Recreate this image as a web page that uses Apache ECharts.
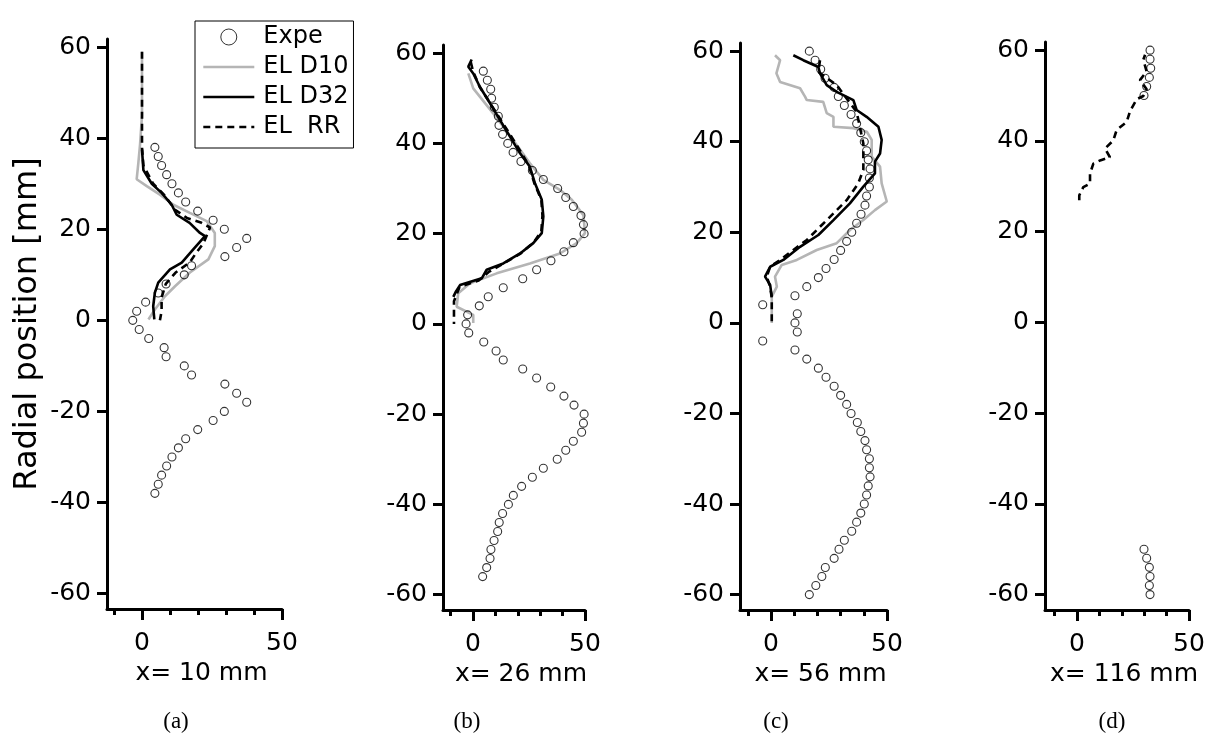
<!DOCTYPE html>
<html>
<head>
<meta charset="utf-8">
<script src="https://cdn.jsdelivr.net/npm/echarts@6/dist/echarts.min.js"></script>
<style>html,body{margin:0;padding:0;background:#fff;}#c{width:1209px;height:736px;}</style>
</head>
<body>
<div id="c"></div>
<script>
// ---------- data (x = value, y = radial position [mm]) ----------
const yTicks = [-60, -40, -20, 0, 20, 40, 60];
const xMajorTicks = [0, 50];
const xMinorTicks = [-10, 10, 20, 30, 40];
const panelTitles = ['x= 10 mm', 'x= 26 mm', 'x= 56 mm', 'x= 116 mm'];
const panelTags = ['(a)', '(b)', '(c)', '(d)'];
const seriesNames = ['Expe', 'EL D10', 'EL D32', 'EL  RR'];

const expeA = [[4.6,38],[5.8,36],[7,34],[8.8,32],[10.7,30],[13,28],[15.6,26],[19.9,24],[25.4,22],[29.4,20],[37.4,18],[33.8,16],[29.6,14],[17.7,12],[15.1,10],[8.6,8],[5.8,6],[1.3,4],[-1.9,2],[-3.3,0],[-1,-2],[2.4,-4],[7.9,-6],[8.6,-8],[15.1,-10],[17.7,-12],[29.6,-14],[33.8,-16],[37.4,-18],[29.4,-20],[25.4,-22],[19.9,-24],[15.6,-26],[13,-28],[10.7,-30],[8.8,-32],[7,-34],[5.8,-36],[4.6,-38]];
const d10A = [[0,59],[0,45],[-0.7,38.6],[-1.3,34.6],[-1.9,31],[1.7,29.5],[6.4,27.6],[11.2,25.4],[17.1,23.6],[23.1,21.8],[26,19.2],[26,16.3],[23.7,13.4],[17.1,10.5],[11.8,7.5],[8.2,5.3],[4.6,2.4],[2.3,0.2]];
const d32A = [[0,37.5],[0.5,33],[3.5,30],[7,28],[10.6,25.4],[12.4,23.2],[17,21.4],[20.7,19.2],[22.5,18.5],[18.3,15.6],[14.2,12.7],[10,11.2],[5.8,8.3],[4.6,6.1],[4,3.1],[4.4,0.2]];
const rrA = [[0,59],[0,38],[0.5,34],[4,30],[8,27.5],[11.8,24.3],[16,22.5],[21,21.5],[24.3,20.4],[22,17],[19,14.5],[17,12.7],[12,10.5],[8.5,8],[7,5],[7,2],[6.4,0]];

const expeB = [[4.6,56],[6.4,54],[7.9,52],[8.3,50],[9.5,48],[11.3,46],[11.6,44],[13.2,42],[15.5,40],[17.9,38],[21.4,36],[26.5,34],[31.4,32],[37.8,30],[41.4,28],[44.8,26],[48.2,24],[49.3,22],[49.6,20],[44.8,18],[40.6,16],[34.8,14],[28.4,12],[22.2,10],[13.5,8],[6.8,6],[2.8,4],[-2.4,2],[-3.1,0],[-1.9,-2],[4.8,-4],[10.3,-6],[13.5,-8],[22.2,-10],[28.4,-12],[34.7,-14],[40.6,-16],[45.1,-18],[49.6,-20],[49.3,-22],[48.5,-24],[44.8,-26],[41.4,-28],[37.6,-30],[31.4,-32],[26.5,-34],[21.7,-36],[18,-38],[15.8,-40],[13.2,-42],[11.7,-44],[11,-46],[9.4,-48],[8,-50],[7.6,-52],[6.1,-54],[4.3,-56]];
const d10B = [[-2.1,55.5],[0.1,52.2],[9.1,46.6],[18,40.7],[25.4,35.6],[31.4,31.9],[38.8,29.7],[44.1,27.5],[49.3,24.1],[50,20.1],[46.3,17.9],[38.8,15.6],[25.4,13.4],[10.6,11.2],[-1.3,9],[-6.6,6.8],[-7.3,3.8],[0.1,2],[0.1,0.2]];
const d32B = [[-0.6,58.6],[-2.1,57],[0.1,55.5],[3.1,52.5],[7.6,48.9],[12,45.2],[16.5,41.5],[21,37.8],[25.4,34.8],[27.7,31.1],[30.7,27.5],[31.4,23.8],[30.7,20.1],[26.9,17.9],[21,15.6],[13.5,13.4],[6.1,12],[3.9,10.1],[-5.8,8.6],[-7.6,7.2],[-8.8,6]];
const rrB = [[-1,58],[0,56],[3,52.5],[7.5,49],[12,45.5],[16.5,42],[21.5,38],[25,35],[27.5,31],[30.5,27.5],[31,24],[30.5,20.5],[27,18],[21,15.5],[13,13.2],[7,11.5],[2.5,9.6],[-6,8.2],[-8.5,5],[-8.5,3],[-8.5,0]];

const expeC = [[16.5,60],[19,58],[21.4,56],[23.3,54],[27.2,52],[29,50],[31.6,48],[34.5,46],[36.9,44],[38.7,42],[40.2,40],[41.2,38],[41.9,36],[42.7,34],[42.4,32],[42.4,30],[41.2,28],[40.5,26],[38.8,24],[36.9,22],[34.8,20],[32.6,18],[30,16],[27.2,14],[23.7,12],[20.4,10],[15.4,8],[10.3,6],[-3.6,4],[11.3,2],[10.3,0],[11.3,-2],[-3.6,-4],[10.3,-6],[15.4,-8],[20.4,-10],[23.7,-12],[27.2,-14],[30,-16],[32.6,-18],[34.5,-20],[37.2,-22],[38.7,-24],[40.5,-26],[41.2,-28],[42.4,-30],[42.4,-32],[42.7,-34],[41.9,-36],[41.2,-38],[40.2,-40],[38.7,-42],[36.9,-44],[34.8,-46],[31.6,-48],[29.3,-50],[27.2,-52],[23.4,-54],[21.9,-56],[19.3,-58],[16.5,-60]];
const d10C = [[1.7,59.1],[3.9,58],[2.3,55.1],[3.9,53.2],[12.5,51.8],[14.7,49.9],[15.4,49.2],[22.5,48.8],[24,46.3],[26.9,45.5],[26.9,43.3],[35.5,43],[41.3,42.2],[43.4,40.4],[43.4,36.7],[47,34.5],[47.7,30.8],[49.9,26.8],[44.8,24.9],[39.8,22.7],[34,20.5],[31.9,19.4],[28.3,17.6],[19.7,16.1],[11.1,13.9],[4.6,12.8],[1.7,10.2],[2.5,8],[0.3,5.8],[0.3,0]];
const d32C = [[9.6,59.1],[13.9,58],[20.4,56.5],[21.1,55.1],[24,52.5],[28.3,51],[35.5,49.2],[36.9,47],[41.2,45.5],[46.3,43.3],[47.7,40.4],[47,37.4],[44.8,35.6],[44.8,33],[39.8,30.1],[34,26.4],[26.9,22.7],[20.4,19.4],[12.5,16.8],[5.3,13.9],[-0.4,12.4],[-2.6,10.2],[-0.4,8.4],[0.3,5.8]];
const rrC = [[21.1,58],[20.4,55.4],[28.3,52.5],[36.9,46.6],[39.8,39.6],[39.8,33.8],[37.6,30.8],[32.6,27.1],[25.4,23.4],[19.7,20.5],[15.4,18.3],[9.6,16.1],[3.9,13.9],[-0.4,12.4],[-1.9,10.2],[-0.4,8],[0.3,5.5],[0.3,0]];

const expeD = [[32.6,60],[32.6,58],[32.9,56],[32.3,54],[31.1,52],[29.9,50],[29.9,-50],[31.1,-52],[32.3,-54],[32.6,-56],[32.3,-58],[32.6,-60]];
const d10D = [];
const d32D = [];
const rrD = [[1,26.9],[1,28],[2.8,29.8],[5.8,30.6],[5.8,32.8],[7.3,35],[10.3,35.7],[14.7,36.4],[12.5,38.3],[16.2,40.1],[17.7,42.4],[22.2,44.2],[23.7,46.6],[26.7,49.2],[29.6,49.9],[31.1,51.4],[28.1,53.4],[31.1,55.3],[29.6,57.9],[30.4,59]];

const panelData = [
  {expe: expeA, d10: d10A, d32: d32A, rr: rrA},
  {expe: expeB, d10: d10B, d32: d32B, rr: rrB},
  {expe: expeC, d10: d10C, d32: d32C, rr: rrC},
  {expe: expeD, d10: d10D, d32: d32D, rr: rrD}
];

// ---------- layout ----------
const FONT = '"DejaVu Sans", Verdana, sans-serif';
const layout = [
  {left: 107, top: 39, width: 175, height: 570, xmin: -12.5, tagX: 176},
  {left: 443, top: 45, width: 142, height: 565, xmin: -13.4, tagX: 467},
  {left: 740, top: 43, width: 147, height: 567, xmin: -13.4, tagX: 776},
  {left: 1045, top: 42, width: 144, height: 568, xmin: -14.3, tagX: 1112}
];
const YMIN = -63.4, YMAX = 61.8;
const GRAY = '#b5b5b5';

const grid = [], xAxis = [], yAxis = [], series = [], graphic = [];
layout.forEach((L, i) => {
  grid.push({left: L.left, top: L.top, width: L.width, height: L.height, containLabel: false});
  xAxis.push({
    type: 'value', gridIndex: i, min: L.xmin, max: 50, position: 'bottom',
    axisLine: {show: true, onZero: false, lineStyle: {color: '#000', width: 3}},
    axisTick: {show: true, customValues: xMajorTicks, length: 11, lineStyle: {color: '#000', width: 3}},
    axisLabel: {show: true, customValues: xMajorTicks, fontSize: 25, color: '#000', margin: 22, fontFamily: FONT},
    splitLine: {show: false},
    name: panelTitles[i], nameLocation: 'middle', nameGap: 52,
    nameTextStyle: {fontSize: 25, color: '#000', fontFamily: FONT, padding: [0, 0, 0, 14]}
  });
  xAxis.push({
    type: 'value', gridIndex: i, min: L.xmin, max: 50, position: 'bottom',
    axisLine: {show: false, onZero: false},
    axisTick: {show: true, customValues: xMinorTicks, length: 6, lineStyle: {color: '#000', width: 3}},
    axisLabel: {show: false},
    splitLine: {show: false}
  });
  const ya = {
    type: 'value', gridIndex: i, min: YMIN, max: YMAX,
    axisLine: {show: true, onZero: false, lineStyle: {color: '#000', width: 3}},
    axisTick: {show: true, customValues: yTicks, length: 10, lineStyle: {color: '#000', width: 3}},
    axisLabel: {show: true, customValues: yTicks, fontSize: 25, color: '#000', margin: 16, fontFamily: FONT},
    splitLine: {show: false}
  };
  if (i === 0) {
    ya.name = 'Radial position [mm]';
    ya.nameLocation = 'middle';
    ya.nameGap = 63;
    ya.nameTextStyle = {fontSize: 32, color: '#000', fontFamily: FONT};
  }
  yAxis.push(ya);

  const P = panelData[i];
  series.push({name: seriesNames[1], type: 'line', xAxisIndex: 2 * i, yAxisIndex: i, data: P.d10, symbol: 'none',
    lineStyle: {color: GRAY, width: 2.6}, itemStyle: {color: GRAY}, z: 2});
  series.push({name: seriesNames[2], type: 'line', xAxisIndex: 2 * i, yAxisIndex: i, data: P.d32, symbol: 'none',
    lineStyle: {color: '#000', width: 2.6}, itemStyle: {color: '#000'}, z: 3});
  series.push({name: seriesNames[3], type: 'line', xAxisIndex: 2 * i, yAxisIndex: i, data: P.rr, symbol: 'none',
    lineStyle: {color: '#000', width: 2.6, type: [7, 5]}, itemStyle: {color: '#000'}, z: 4});
  series.push({name: seriesNames[0], type: 'scatter', xAxisIndex: 2 * i, yAxisIndex: i, data: P.expe,
    symbol: 'circle', symbolSize: 8,
    itemStyle: {color: 'rgba(0,0,0,0)', borderColor: '#000', borderWidth: 1.1}, z: 5});

  graphic.push({type: 'text', x: L.tagX, y: 722,
    style: {text: panelTags[i], fontSize: 23, fontFamily: '"Liberation Serif", "Times New Roman", serif',
      fill: '#000', align: 'center', verticalAlign: 'middle'}});
});

const hiddenSym = {color: 'rgba(0,0,0,0)', borderWidth: 0, borderColor: 'rgba(0,0,0,0)'};
const option = {
  backgroundColor: '#fff',
  animation: false,
  textStyle: {fontFamily: FONT, color: '#000'},
  grid, xAxis, yAxis, series, graphic,
  legend: {
    orient: 'vertical', left: 195, top: 21,
    padding: [1, 5, 6, 7], itemGap: 0,
    itemWidth: 51, itemHeight: 16,
    backgroundColor: '#fff', borderColor: '#000', borderWidth: 1, borderRadius: 0,
    textStyle: {fontSize: 24, color: '#000', fontFamily: FONT, lineHeight: 30, padding: [0, 0, 0, 4]},
    data: [
      {name: seriesNames[0], icon: 'circle', itemStyle: {color: 'rgba(0,0,0,0)', borderColor: '#000', borderWidth: 1}},
      {name: seriesNames[1], itemStyle: hiddenSym, lineStyle: {color: GRAY, width: 2.6}},
      {name: seriesNames[2], itemStyle: hiddenSym, lineStyle: {color: '#000', width: 2.6}},
      {name: seriesNames[3], itemStyle: hiddenSym, lineStyle: {color: '#000', width: 2.6, type: [7, 5]}}
    ]
  }
};

const chart = echarts.init(document.getElementById('c'), null, {renderer: 'canvas'});
chart.setOption(option);
</script>
</body>
</html>
